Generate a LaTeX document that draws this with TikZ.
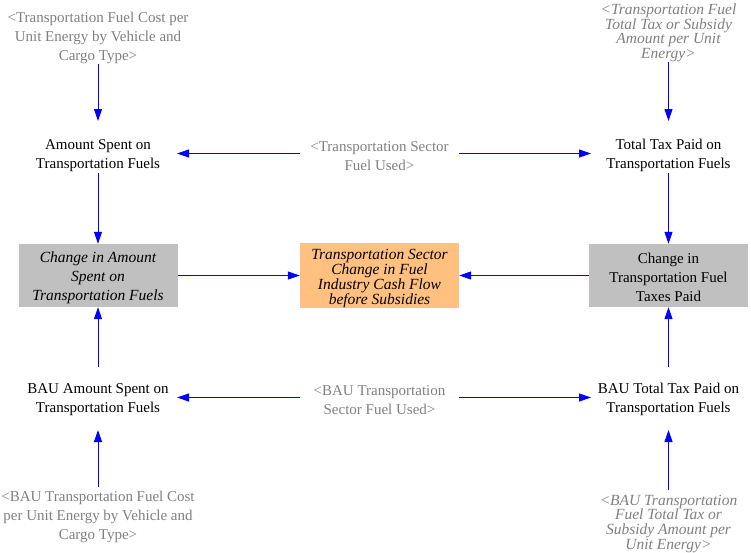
\documentclass[tikz,border=0pt]{standalone}
\usepackage{fontspec}
\setmainfont{Liberation Serif}
\usetikzlibrary{arrows.meta}
\definecolor{vblue}{RGB}{0,0,255}
\definecolor{vgray}{RGB}{128,128,128}
\definecolor{boxgray}{RGB}{192,192,192}
\definecolor{boxorange}{RGB}{255,192,128}
\newcommand{\dnA}{\rule{0pt}{14.5pt}}
\newcommand{\dnB}{\rule{0pt}{16.5pt}}
\begin{document}
\begin{tikzpicture}[x=1pt,y=-1pt,
  txt/.style={align=center, inner sep=0pt, font=\fontsize{15}{19}\selectfont},
  ext/.style={txt, text=vgray},
  exti/.style={align=center, inner sep=0pt, text=vgray, font=\fontsize{15.5}{14.7}\selectfont\itshape},
  gbox/.style={fill=boxgray, minimum width=159pt, minimum height=63pt, inner sep=0pt, align=center},
  obox/.style={fill=boxorange, minimum width=159pt, minimum height=63pt, inner sep=0pt, align=center, font=\fontsize{15.5}{15}\selectfont\itshape},
  arr/.style={-{Triangle[length=12pt,width=8pt]}, color=vblue, line width=1pt}
]
\useasboundingbox (0,0) rectangle (751,552);

\node[ext] (fc) at (98,36) {\dnA<Transportation Fuel Cost per\\Unit Energy by Vehicle and\\Cargo Type>};
\node[txt] (amt) at (98,153.5) {\dnA Amount Spent on\\Transportation Fuels};
\node[ext] (tsfu) at (379.5,153.5) {\dnA<Transportation Sector\\Fuel Used>};
\node[txt] (ttp) at (668.5,153.5) {\dnA Total Tax Paid on\\Transportation Fuels};
\node[exti] (tax) at (668.5,31) {\dnA<Transportation Fuel\\Total Tax or Subsidy\\Amount per Unit\\Energy>};

\node[gbox, font=\fontsize{15.5}{19}\selectfont\itshape] (cas) at (98,275.5) {\dnA Change in Amount\\Spent on\\Transportation Fuels};
\node[obox] (cf) at (379.5,275.5) {\dnB Transportation Sector\\Change in Fuel\\Industry Cash Flow\\before Subsidies};
\node[gbox, font=\fontsize{15}{19}\selectfont] (ctp) at (668.5,275.5) {\dnA Change in\\Transportation Fuel\\Taxes Paid};

\node[txt] (bamt) at (98,397.5) {\dnA BAU Amount Spent on\\Transportation Fuels};
\node[ext] (btsfu) at (379.5,397.5) {\dnA<BAU Transportation\\Sector Fuel Used>};
\node[txt] (bttp) at (668.5,397.5) {\dnA BAU Total Tax Paid on\\Transportation Fuels};
\node[ext] (bfc) at (98,515) {\dnA<BAU Transportation Fuel Cost\\per Unit Energy by Vehicle and\\Cargo Type>};
\node[exti] (btax) at (668.5,520.5) {\dnB<BAU Transportation\\Fuel Total Tax or\\Subsidy Amount per\\Unit Energy>};

% left column
\draw[arr] ([yshift=-28pt]fc.center) -- ([yshift=32.5pt]amt.center);
\draw[arr] ([yshift=-19.5pt]amt.center) -- (cas.north);
\draw[arr] ([yshift=30.5pt]bamt.center) -- (cas.south);
\draw[arr] ([yshift=28pt]bfc.center) -- ([yshift=-32.5pt]bamt.center);
% right column
\draw[arr] ([yshift=-31pt]tax.center) -- ([yshift=32.5pt]ttp.center);
\draw[arr] ([yshift=-19.5pt]ttp.center) -- (ctp.north);
\draw[arr] ([yshift=30.5pt]bttp.center) -- (ctp.south);
\draw[arr] ([yshift=30.5pt]btax.center) -- ([yshift=-32.5pt]bttp.center);
% middle row
\draw[arr] (cas.east) -- (cf.west);
\draw[arr] (ctp.west) -- (cf.east);
% horizontal from shadow variables
\draw[arr] ([xshift=-79.5pt]tsfu.center) -- ([xshift=79pt]amt.center);
\draw[arr] ([xshift=79.5pt]tsfu.center) -- ([xshift=-77.5pt]ttp.center);
\draw[arr] ([xshift=-79.5pt]btsfu.center) -- ([xshift=79pt]bamt.center);
\draw[arr] ([xshift=79.5pt]btsfu.center) -- ([xshift=-77.5pt]bttp.center);
\end{tikzpicture}
\end{document}
